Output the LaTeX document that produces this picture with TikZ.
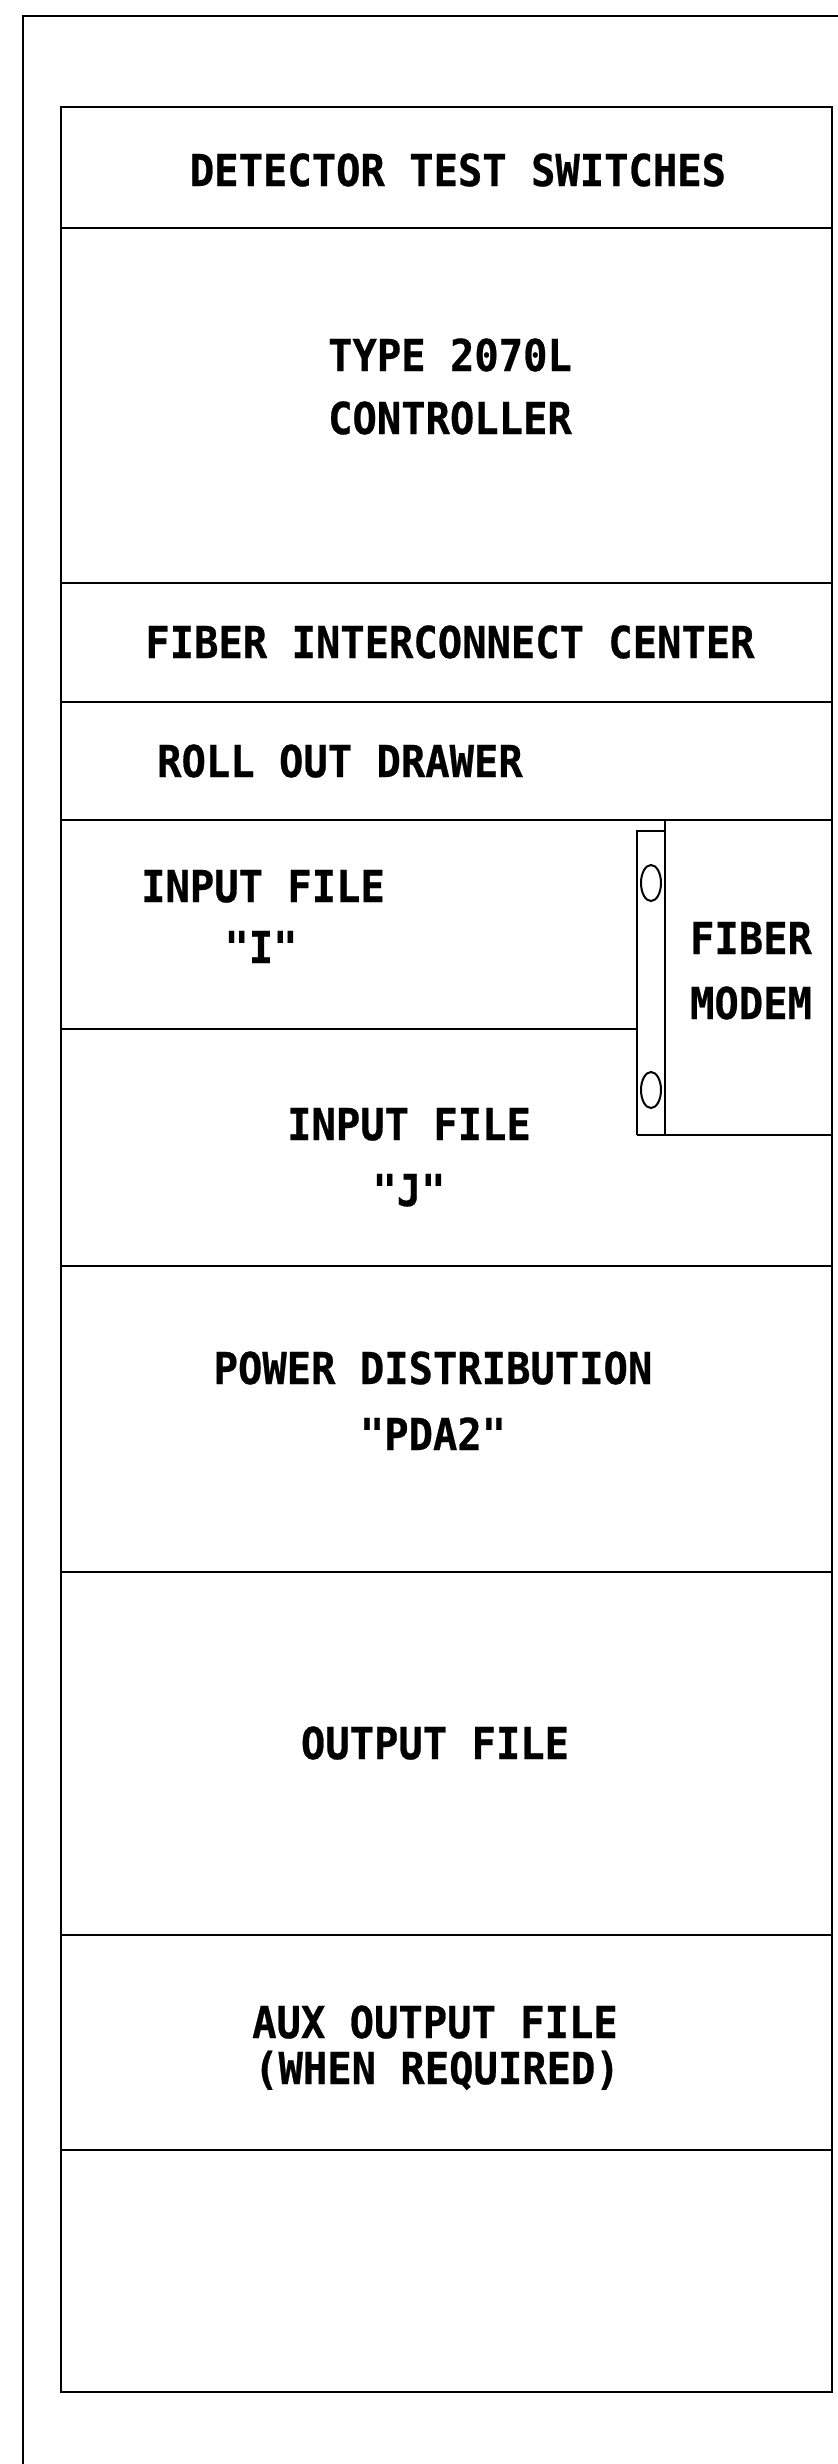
\documentclass[tikz,border=0pt]{standalone}
\usepackage{fontspec}
\newfontfamily\plotfont{DejaVu Sans Mono}[FakeStretch=0.92,BoldFeatures={FakeBold=0.6}]

\begin{document}
\begin{tikzpicture}[x=0.5pt,y=-0.5pt,line width=1.4pt,
    lbl/.style={anchor=base,inner sep=0pt,font=\plotfont\bfseries\fontsize{22}{26}\selectfont}]

\useasboundingbox (0,0) rectangle (837,2464);

% outer frame (runs off the sheet right and bottom)
\draw (23,2470) -- (23,16) -- (840,16);

% cabinet
\draw (61,107) rectangle (832,2392);

% shelf dividers
\foreach \y in {228,583,702,820,1266,1572,1935,2150}{
    \draw (61,\y) -- (832,\y);
}
\draw (61,1029) -- (637,1029);

% fiber modem and its mounting strip
\draw (637,1135) -- (637,831) -- (665,831);
\draw (665,820) -- (665,1135);
\draw (637,1135) -- (832,1135);
\foreach \y in {883,1090}{
    \draw[line width=1pt] (651,\y) ellipse (5pt and 9pt);
}

% labels
\node[lbl] (dts) at (458,186) {DETECTOR TEST SWITCHES};
\node[lbl] (type) at (450,371) {TYPE 2070L};
\node[lbl] (ctrl) at (450,434) {CONTROLLER};
\node[lbl] (fic) at (450,658) {FIBER INTERCONNECT CENTER};
\node[lbl] (rod) at (340,777) {ROLL OUT DRAWER};
\node[lbl] (inI) at (263,902) {INPUT FILE};
\node[lbl] (qI) at (261,963) {"I"};
\node[lbl] (fiber) at (751,954) {FIBER};
\node[lbl] (modem) at (751,1019) {MODEM};
\node[lbl] (inJ) at (409,1140) {INPUT FILE};
\node[lbl] (qJ) at (409,1206) {"J"};
\node[lbl] (pwr) at (433,1384) {POWER DISTRIBUTION};
\node[lbl] (pda) at (433,1450) {"PDA2"};
\node[lbl] (out) at (435,1759) {OUTPUT FILE};
\node[lbl] (aux) at (435,2038) {AUX OUTPUT FILE};
\node[lbl] (when) at (437,2084) {(WHEN REQUIRED)};

\end{tikzpicture}
\end{document}
